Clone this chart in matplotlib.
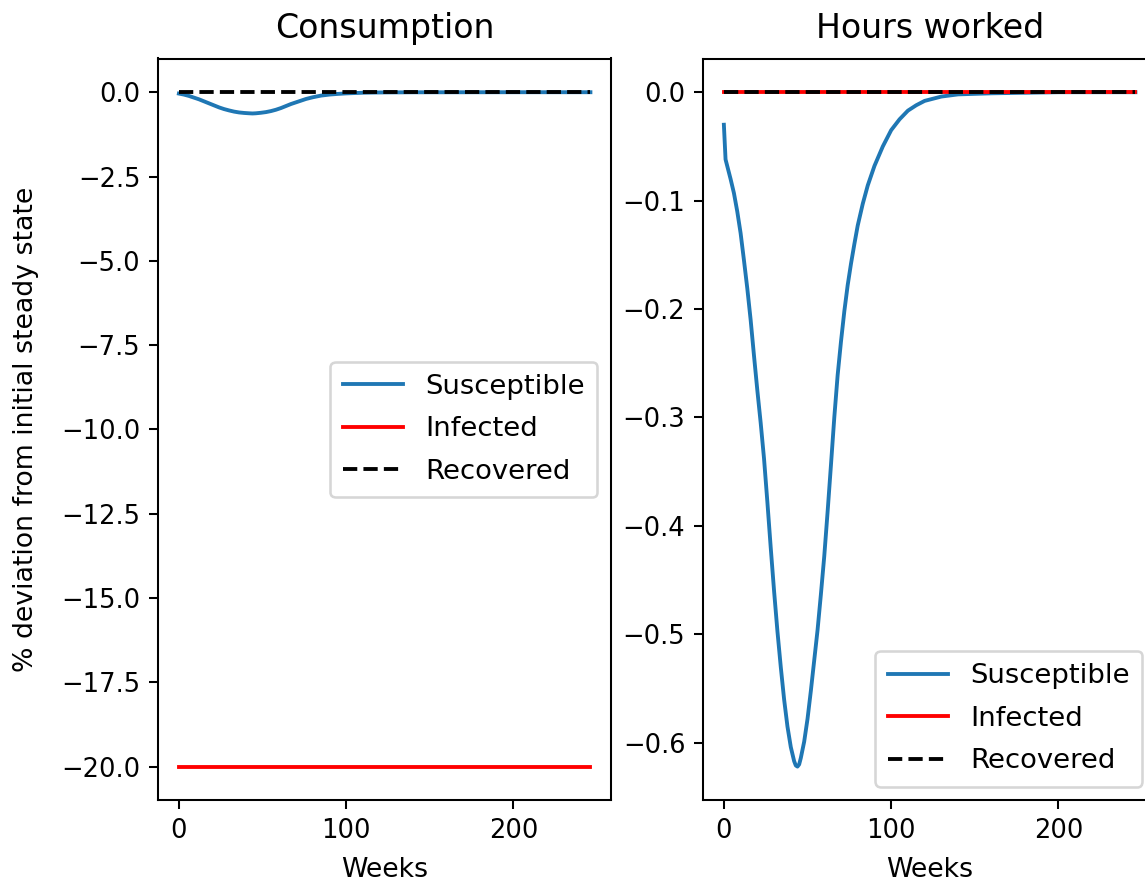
import matplotlib
matplotlib.use("Agg")
import matplotlib.pyplot as plt

# ---- data ----
last_week = 246
flat_weeks = [0, last_week]

cons_weeks = [0, 3, 6, 9, 12, 15, 18, 21, 24, 27, 30, 33, 36, 39, 42, 44, 46, 49,
              52, 55, 58, 61, 64, 67, 70, 73, 76, 80, 85, 90, 95, 100, 110, 120,
              140, 170, 200, last_week]
cons_susceptible = [-0.04, -0.07, -0.11, -0.16, -0.21, -0.27, -0.33, -0.39, -0.45,
                    -0.50, -0.54, -0.575, -0.60, -0.615, -0.625, -0.63, -0.625,
                    -0.61, -0.59, -0.56, -0.52, -0.47, -0.41, -0.35, -0.30, -0.25,
                    -0.20, -0.15, -0.10, -0.07, -0.05, -0.035, -0.015, -0.007,
                    -0.002, -0.001, 0.0, 0.0]
cons_infected = [-20.0, -20.0]
cons_recovered = [0.0, 0.0]

hours_weeks = [0, 1, 2, 4, 6, 8, 10, 12, 14, 16, 18, 20, 22, 24, 26, 28, 30, 32,
               34, 36, 38, 40, 42, 43, 44, 45, 46, 48, 50, 52, 54, 56, 58, 60, 62,
               64, 66, 68, 70, 72, 74, 76, 78, 80, 83, 86, 90, 95, 100, 105, 110,
               115, 120, 130, 140, 160, 200, last_week]
hours_susceptible = [-0.030, -0.062, -0.068, -0.080, -0.093, -0.110, -0.130,
                     -0.155, -0.181, -0.210, -0.243, -0.275, -0.305, -0.338,
                     -0.378, -0.420, -0.460, -0.497, -0.530, -0.560, -0.585,
                     -0.604, -0.617, -0.621, -0.622, -0.620, -0.614, -0.599,
                     -0.578, -0.552, -0.524, -0.496, -0.463, -0.428, -0.387,
                     -0.344, -0.300, -0.261, -0.230, -0.202, -0.178, -0.158,
                     -0.140, -0.123, -0.103, -0.086, -0.068, -0.050, -0.035,
                     -0.025, -0.017, -0.012, -0.008, -0.004, -0.002, -0.001,
                     0.0, 0.0]
hours_infected = [0.0, 0.0]
hours_recovered = [0.0, 0.0]

labels = ["Susceptible", "Infected", "Recovered"]
titles = ["Consumption", "Hours worked"]

# ---- figure ----
W, H, DPI = 1145, 884, 185
fig = plt.figure(figsize=(W / DPI, H / DPI), dpi=DPI)

ax_top, ax_bottom = 58.5, 800.3
ax_h = (ax_bottom - ax_top) / H
ax_w = 452.7 / W
ax1 = fig.add_axes([158.3 / W, (H - ax_bottom) / H, ax_w, ax_h])
ax2 = fig.add_axes([703.3 / W, (H - ax_bottom) / H, ax_w, ax_h])

title_fs, label_fs, legend_fs = 12.9, 10.4, 10.7
leg_kw = dict(fontsize=legend_fs, handlelength=2.2, labelspacing=0.6, borderpad=0.45)

ax1.plot(cons_weeks, cons_susceptible, color="#1f77b4", label=labels[0])
ax1.plot(flat_weeks, cons_infected, color="red", label=labels[1])
ax1.plot(flat_weeks, cons_recovered, color="black", linestyle="--", label=labels[2])
ax1.set_title(titles[0], fontsize=title_fs, pad=8)
ax1.set_xlabel("Weeks", fontsize=label_fs, labelpad=5)
ax1.set_ylabel("% deviation from initial steady state", fontsize=label_fs, labelpad=8.5)
ax1.legend(loc="center right", **leg_kw)

ax2.plot(hours_weeks, hours_susceptible, color="#1f77b4", label=labels[0])
ax2.plot(flat_weeks, hours_infected, color="red", label=labels[1])
ax2.plot(flat_weeks, hours_recovered, color="black", linestyle="--", label=labels[2])
ax2.set_title(titles[1], fontsize=title_fs, pad=8)
ax2.set_xlabel("Weeks", fontsize=label_fs, labelpad=5)
ax2.legend(loc="lower right", **leg_kw)

fig.savefig("out.png", dpi=DPI)
